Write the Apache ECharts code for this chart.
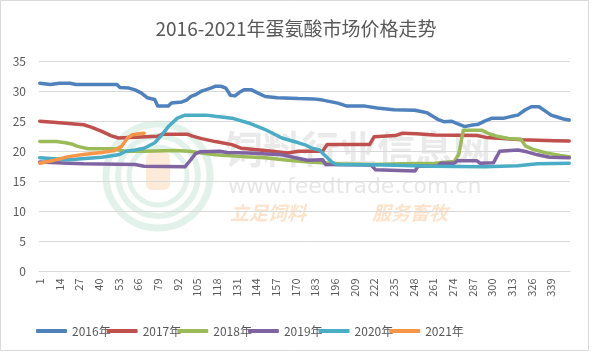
<!DOCTYPE html>
<html>
<head>
<meta charset="utf-8">
<script src="https://cdn.jsdelivr.net/npm/echarts@6/dist/echarts.min.js"></script>
<style>
  html, body { margin: 0; padding: 0; background: #fff; }
  #chart { width: 592px; height: 353px; }
</style>
</head>
<body>
<div id="chart"></div>
<script>
// 蛋氨酸价格走势 (元/kg), 按当年第几天取点 [day, price]
var dayCount = 351;
var days = [];
for (var i = 1; i <= dayCount; i++) days.push(String(i));

var legendNames = ['2016年', '2017年', '2018年', '2019年', '2020年', '2021年'];
var lineColors = ['#4F81BD', '#C0504D', '#9BBB59', '#8064A2', '#4BACC6', '#F79646'];

var price2016 = [[1,31.3],[8,31.1],[14,31.3],[21,31.3],[25,31.1],[52,31.1],[54,30.6],[60,30.5],[64,30.2],[68,29.7],[72,28.9],[77,28.6],[79,27.5],[86,27.5],[88,28.0],[95,28.2],[98,28.5],[101,29.1],[104,29.4],[108,30.0],[114,30.5],[117,30.8],[121,30.8],[124,30.5],[127,29.3],[130,29.2],[133,29.8],[136,30.2],[141,30.2],[145,29.7],[150,29.1],[158,28.9],[172,28.75],[182,28.7],[188,28.5],[198,28.0],[204,27.5],[216,27.5],[224,27.2],[235,26.9],[249,26.8],[257,26.4],[264,25.3],[268,24.9],[273,25.0],[277,24.6],[282,24.1],[286,24.3],[291,24.5],[295,25.0],[300,25.5],[308,25.5],[313,25.8],[317,26.0],[322,26.9],[326,27.4],[331,27.4],[335,26.7],[339,26.0],[344,25.6],[348,25.3],[351,25.2]];
var price2017 = [[1,25.0],[10,24.8],[20,24.6],[30,24.4],[35,24.0],[42,23.3],[48,22.6],[53,22.2],[60,22.3],[79,22.5],[82,22.8],[99,22.8],[102,22.5],[108,22.1],[117,21.6],[128,21.1],[134,20.5],[150,20.1],[165,19.7],[172,20.0],[188,20.0],[191,21.1],[219,21.1],[222,22.4],[236,22.6],[241,23.0],[250,22.9],[262,22.7],[290,22.6],[296,22.3],[307,22.1],[320,21.9],[341,21.75],[351,21.7]];
var price2018 = [[1,21.6],[12,21.6],[18,21.4],[22,21.2],[26,20.8],[33,20.4],[50,20.4],[57,20.0],[70,20.0],[90,20.1],[100,20.0],[108,19.7],[117,19.4],[135,19.1],[150,18.9],[165,18.5],[179,18.2],[200,17.9],[220,17.8],[240,17.9],[262,18.0],[275,18.3],[278,19.5],[281,23.5],[293,23.5],[298,22.9],[303,22.5],[311,22.1],[319,22.0],[322,20.9],[327,20.3],[336,19.7],[345,19.3],[351,19.1]];
var price2019 = [[1,18.2],[20,18.0],[30,17.9],[64,17.8],[70,17.5],[97,17.4],[99,18.0],[104,19.6],[107,19.9],[120,20.0],[125,19.8],[139,19.7],[161,19.4],[170,18.9],[178,18.5],[188,18.6],[190,17.8],[220,17.7],[223,16.9],[238,16.8],[249,16.7],[251,17.5],[264,17.5],[266,18.0],[275,18.0],[277,18.4],[290,18.4],[292,18.0],[301,18.1],[305,20.0],[317,20.2],[323,19.9],[330,19.4],[338,19.0],[351,18.9]];
var price2020 = [[1,18.9],[20,18.6],[42,19.0],[53,19.4],[58,20.0],[64,20.2],[70,20.5],[77,21.4],[81,22.5],[86,24.1],[92,25.5],[97,26.0],[111,26.0],[117,25.8],[128,25.5],[139,24.7],[150,23.6],[161,22.2],[172,21.4],[177,21.0],[181,20.5],[186,20.2],[189,19.4],[194,18.2],[197,17.8],[230,17.7],[260,17.5],[295,17.4],[317,17.6],[330,17.9],[351,18.0]];
var price2021 = [[1,18.0],[9,18.4],[20,19.1],[31,19.5],[42,19.8],[50,20.1],[55,20.8],[59,22.2],[62,22.7],[66,22.9],[70,23.0]];

var yTicks = [0, 5, 10, 15, 20, 25, 30, 35];

var allPrices = [price2016, price2017, price2018, price2019, price2020, price2021];

var myChart = echarts.init(document.getElementById('chart'));

var seriesList = [];
for (var s = 0; s < allPrices.length; s++) {
    seriesList.push({
        name: legendNames[s],
        type: 'line',
        showSymbol: false,
        symbol: 'none',
        lineStyle: { width: 3.5, color: lineColors[s], cap: 'round', join: 'round' },
        itemStyle: { color: lineColors[s] },
        // 类目轴按索引定位: 第 d 天 -> 索引 d-1
        data: allPrices[s].map(function (p) { return [p[0] - 1, p[1]]; })
    });
}

var fontCN = '"Noto Sans CJK SC", "Noto Sans", sans-serif';

var option = {
    animation: false,
    textStyle: { fontFamily: fontCN },
    title: {
        text: '2016-2021年蛋氨酸市场价格走势',
        left: 'center',
        top: 14,
        textStyle: { fontSize: 19, fontWeight: 'normal', color: '#595959', fontFamily: fontCN }
    },
    legend: {
        data: legendNames,
        left: 31,
        top: 320,
        icon: 'roundRect',
        itemWidth: 31,
        itemHeight: 4,
        itemGap: -4,
        textStyle: { fontSize: 12, color: '#595959', fontFamily: fontCN }
    },
    grid: { left: 39, right: 22, top: 61, bottom: 81.5 },
    xAxis: {
        type: 'category',
        data: days,
        boundaryGap: true,
        axisLine: { lineStyle: { color: '#d9d9d9' } },
        axisTick: { show: false },
        axisLabel: { interval: 12, rotate: 90, fontSize: 11, color: '#595959', margin: 7 }
    },
    yAxis: {
        type: 'value',
        min: yTicks[0],
        max: yTicks[yTicks.length - 1],
        interval: 5,
        axisLine: { show: false },
        axisTick: { show: false },
        axisLabel: { fontSize: 12, color: '#595959', margin: 13 },
        splitLine: { lineStyle: { color: '#d9d9d9', width: 1 } }
    },
    series: seriesList,
    graphic: [
        {
            type: 'rect', silent: true, z: -1,
            shape: { x: 0.5, y: 0.5, width: 588, height: 350 },
            style: { fill: 'none', stroke: '#d9d9d9', lineWidth: 1 }
        },
        // 水印
        {
            type: 'group', silent: true, z: 100,
            children: [
                { type: 'circle', shape: { cx: 158, cy: 176, r: 52 }, style: { fill: 'none', stroke: '#bfe3d2', lineWidth: 7, opacity: 0.45 } },
                { type: 'circle', shape: { cx: 158, cy: 176, r: 40 }, style: { fill: 'none', stroke: '#bfe3d2', lineWidth: 6, opacity: 0.45 } },
                { type: 'circle', shape: { cx: 158, cy: 176, r: 29 }, style: { fill: 'none', stroke: '#bfe3d2', lineWidth: 5, opacity: 0.45 } },
                { type: 'rect', shape: { x: 146, y: 152, width: 24, height: 38, r: 6 }, style: { fill: '#fbd5b2', opacity: 0.5 } },
                { type: 'text', x: 225, y: 130, style: { text: '饲料行业信息网', fontSize: 38, fontWeight: 'bold', fill: '#d0d0d0', opacity: 0.45, fontFamily: fontCN } },
                { type: 'text', x: 228, y: 176, style: { text: 'www.feedtrade.com.cn', fontSize: 22, fill: '#cfcfcf', opacity: 0.5, fontFamily: '"DejaVu Sans", sans-serif' } },
                { type: 'text', x: 230, y: 203, style: { text: '立足饲料', fontSize: 19, fontStyle: 'italic', fontWeight: 'bold', fill: '#fbcfa6', opacity: 0.6, fontFamily: fontCN } },
                { type: 'text', x: 372, y: 203, style: { text: '服务畜牧', fontSize: 19, fontStyle: 'italic', fontWeight: 'bold', fill: '#fbcfa6', opacity: 0.6, fontFamily: fontCN } }
            ]
        }
    ]
};

myChart.setOption(option);
</script>
</body>
</html>
